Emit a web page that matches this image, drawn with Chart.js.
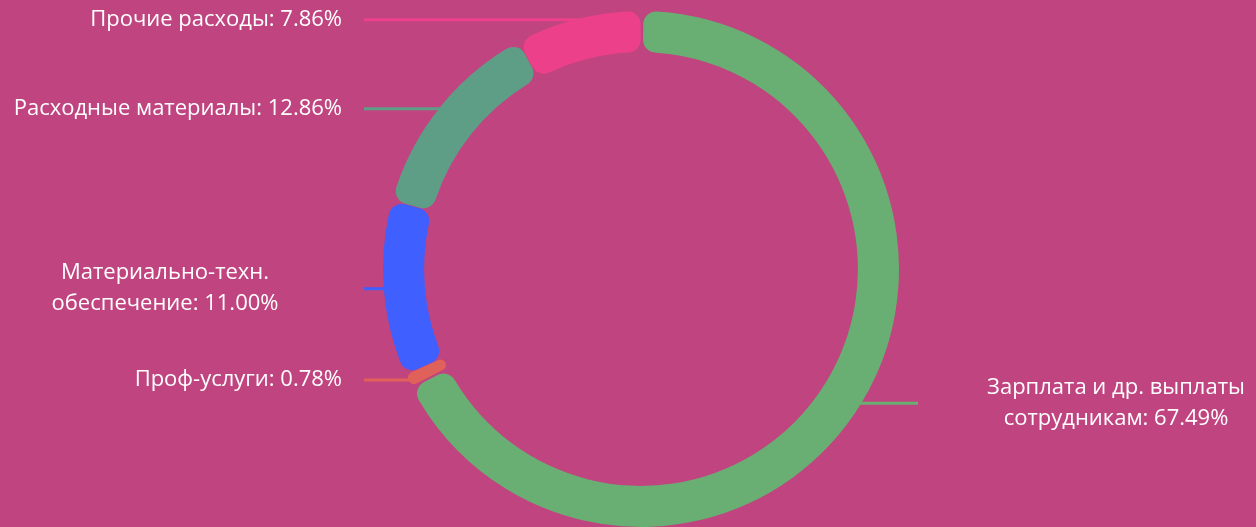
<!DOCTYPE html>
<html>
<head>
<meta charset="utf-8">
<title>Структура расходов</title>
<script src="https://cdn.jsdelivr.net/npm/chart.js"></script>
<style>
    html, body {
        margin: 0;
        padding: 0;
        background: #c0447f;
    }
    #wrap {
        width: 1256px;
        height: 527px;
    }
</style>
</head>
<body>
<div id="wrap"><canvas id="costChart"></canvas></div>
<script>
// Data
const categories = [
    ['Зарплата и др. выплаты', 'сотрудникам'],
    ['Проф-услуги'],
    ['Материально-техн.', 'обеспечение'],
    ['Расходные материалы'],
    ['Прочие расходы']
];
const shares = [67.49, 0.78, 11.00, 12.86, 7.86];
const sliceColors = ['#69ae72', '#e0605a', '#3f5fff', '#5e9e87', '#ec418a'];

// leader lines + labels drawn next to the ring
const sideLabels = {
    id: 'sideLabels',
    afterDatasetsDraw(chart) {
        const ctx = chart.ctx;
        const meta = chart.getDatasetMeta(0);
        ctx.save();
        ctx.font = '500 22px "Open Sans", sans-serif';
        ctx.fillStyle = '#ffffff';
        ctx.textBaseline = 'middle';
        meta.data.forEach((arc, i) => {
            const p = arc.getProps(['x', 'y', 'startAngle', 'endAngle', 'outerRadius'], true);
            const mid = (p.startAngle + p.endAngle) / 2;
            const px = p.x + Math.cos(mid) * p.outerRadius;
            const py = p.y + Math.sin(mid) * p.outerRadius;
            const right = Math.cos(mid) > 0;
            const endX = right ? p.x + p.outerRadius + 20 : p.x - p.outerRadius - 20;

            ctx.strokeStyle = sliceColors[i];
            ctx.lineWidth = 3;
            ctx.beginPath();
            ctx.moveTo(px, py);
            ctx.lineTo(endX, py);
            ctx.stroke();

            const lines = categories[i].slice();
            lines[lines.length - 1] += ': ' + shares[i].toFixed(2) + '%';
            const lh = 31;
            const top = py - (lines.length - 1) * lh / 2;
            if (lines.length > 1) {
                ctx.textAlign = 'center';
                const cx = right ? p.x + 475 : p.x - 476;
                lines.forEach((t, k) => ctx.fillText(t, cx, top + k * lh));
            } else {
                ctx.textAlign = right ? 'left' : 'right';
                const tx = right ? endX + 22 : endX - 22;
                ctx.fillText(lines[0], tx, py);
            }
        });
        ctx.restore();
    }
};

new Chart(document.getElementById('costChart'), {
    type: 'doughnut',
    data: {
        labels: categories.map(c => c.join(' ')),
        datasets: [{
            data: shares,
            backgroundColor: sliceColors,
            borderWidth: 0,
            borderRadius: 13,
            spacing: 2
        }]
    },
    options: {
        responsive: true,
        maintainAspectRatio: false,
        animation: false,
        cutout: '84%',
        layout: {
            padding: { top: 11, bottom: 0, left: 26, right: 0 }
        },
        plugins: {
            legend: { display: false },
            tooltip: { enabled: false }
        }
    },
    plugins: [sideLabels]
});
</script>
</body>
</html>
